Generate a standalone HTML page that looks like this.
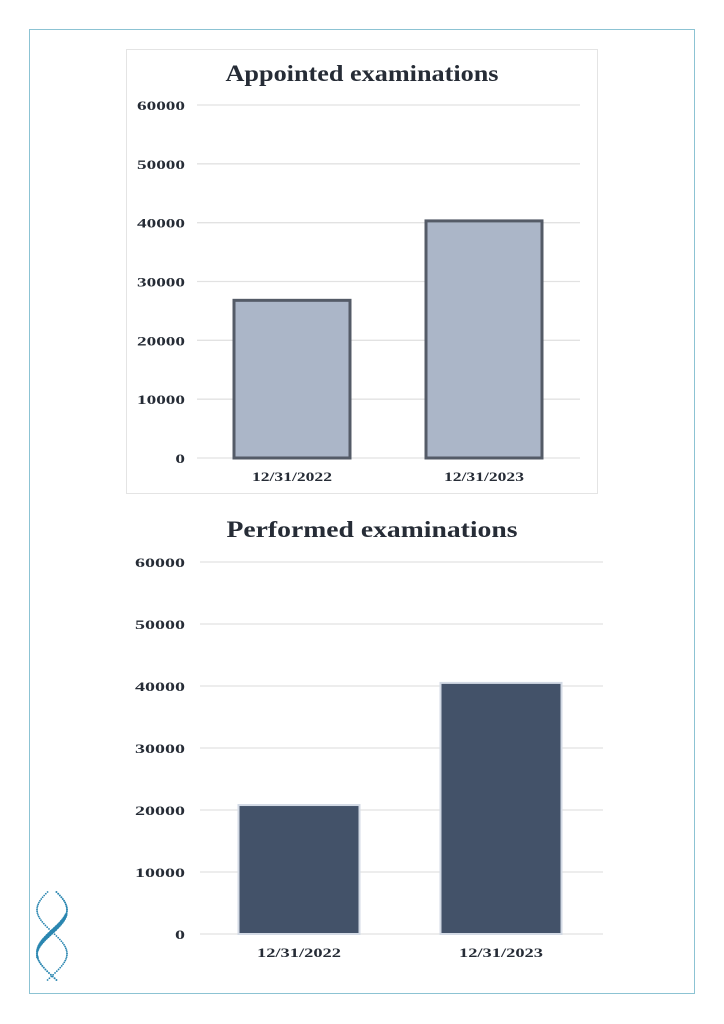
<!DOCTYPE html>
<html><head><meta charset="utf-8"><style>
body{margin:0;width:724px;height:1024px;background:#fff;overflow:hidden}
svg{display:block}
text{font-family:"Liberation Serif",serif;font-weight:bold;fill:#262c36}
</style></head><body>
<svg width="724" height="1024">
<rect x="29.5" y="29.5" width="665" height="964" fill="none" stroke="#8cc3d3" stroke-width="1"/>
<rect x="126.5" y="49.5" width="471" height="444" fill="#fff" stroke="#e4e4e4"/>
<g id="c1"></g>
<g id="c2"></g>
<g id="logo"></g>
</svg>
<script>
const categories=["12/31/2022","12/31/2023"];
const ticks=[0,10000,20000,30000,40000,50000,60000];
const appointedValues=[26800,40300];
const performedValues=[20800,40500];
const NS="http://www.w3.org/2000/svg";
function mk(p,t,a){const e=document.createElementNS(NS,t);for(const k in a)e.setAttribute(k,a[k]);p.appendChild(e);return e;}
function chart(g,title,vals,cfg){
 const y=v=>cfg.y0-(v/60000)*(cfg.y0-cfg.y1);
 const t=mk(g,'text',{x:cfg.tx,y:cfg.ty,'text-anchor':'middle','font-size':23,textLength:cfg.tl,lengthAdjust:'spacingAndGlyphs'});t.textContent=title;
 
 
 ticks.forEach(v=>{
  const l=mk(g,'line',{x1:cfg.gx0,x2:cfg.gx1,y1:y(v),y2:y(v),stroke:'#e2e2e2','stroke-width':1.3});
  
  
  const s=String(v);
  const w=s.length*cfg.dw;
  const tx=mk(g,'text',{x:cfg.lx-w,y:y(v)+5,'font-size':13,textLength:w,lengthAdjust:'spacingAndGlyphs'});tx.textContent=s;
  
  
 });
 vals.forEach((v,i)=>{
  const cx=cfg.bx[i];
  const r=mk(g,'rect',{x:cx-cfg.bw/2,y:y(v),width:cfg.bw,height:cfg.y0-y(v),fill:cfg.fill,stroke:cfg.stroke,'stroke-width':cfg.sw});
  
  
  const tx=mk(g,'text',{x:cx,y:cfg.xly,'text-anchor':'middle','font-size':13,textLength:cfg.xw,lengthAdjust:'spacingAndGlyphs'});tx.textContent=categories[i];
  
  
 });
}
chart(document.getElementById('c1'),'Appointed examinations',appointedValues,
 {y0:458,y1:105,gx0:197,gx1:580,lx:185,dw:9.6,bx:[292,484],bw:116,fill:'#abb6c8',stroke:'#545b67',sw:3,tx:362,ty:81,tl:273,xly:481,xw:80});
chart(document.getElementById('c2'),'Performed examinations',performedValues,
 {y0:934,y1:562,gx0:200,gx1:603,lx:185,dw:10,bx:[299,501],bw:121,fill:'#435269',stroke:'#d3dae5',sw:2,tx:372,ty:537,tl:291,xly:957,xw:84});
// logo: dotted double helix
const lg=document.getElementById('logo');
for(let i=0;i<=50;i++){
 const s=i/50;
 const yy=892+s*88;
 const ph=s*Math.PI*2+0.3;
 const x1=52+15*Math.sin(ph);
 const x2=52-15*Math.sin(ph);
 const r1=(s>0.25&&s<0.75)?1+1.3*Math.abs(Math.cos(ph)):1;
 mk(lg,'circle',{cx:x1,cy:yy,r:r1,fill:'#2a86b0'});
 mk(lg,'circle',{cx:x2,cy:yy,r:0.9,fill:'#2a86b0'});
}
</script>
</body></html>
